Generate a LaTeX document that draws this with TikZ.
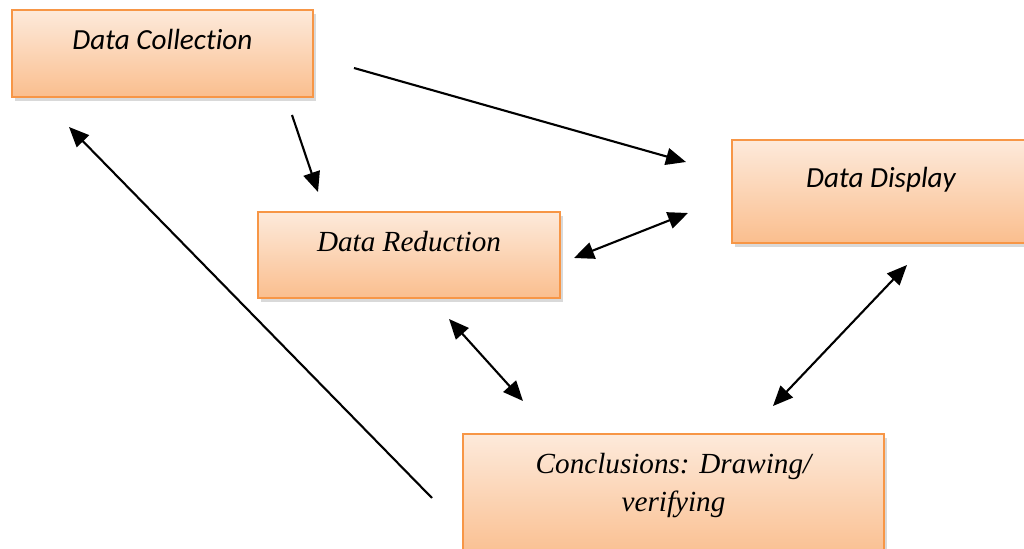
\documentclass[tikz,border=0pt]{standalone}
\usepackage{fontspec}
\setmainfont{Liberation Serif}
\newfontfamily\calibri[Ligatures=CommonOff]{Carlito}
\usetikzlibrary{shadows, arrows.meta}

\definecolor{boxedge}{RGB}{247,150,70}
\definecolor{boxtop}{RGB}{253,234,219}
\definecolor{boxbottom}{RGB}{250,190,142}

\begin{document}
\begin{tikzpicture}[
		box/.style = {draw = boxedge, line width = 0.8pt, top color = boxtop, bottom color = boxbottom,
			drop shadow = {shadow xshift = 0.03, shadow yshift = -0.04, opacity = 0.3}},
		txt/.style = {anchor = base, font = \fontsize{8.3}{10.8}\selectfont\itshape, align = center},
		arr/.style = {line width = 0.6pt, -{Triangle[length = 2mm, width = 1.7mm]}},
		dbl/.style = {line width = 0.6pt, {Triangle[length = 2mm, width = 1.7mm]}-{Triangle[length = 2mm, width = 1.7mm]}}
	]
			\useasboundingbox (0,0) rectangle (10.24,5.48);

			\node [box, minimum width = 3.01cm, minimum height = 0.87cm,
				label = {[txt, yshift = -0.41cm, font = \fontsize{8.3}{10.8}\selectfont\calibri\itshape]north:Data Collection}]
				(collect) at (1.625,4.945) {};
			\node [box, minimum width = 2.98cm, minimum height = 1.03cm,
				label = {[txt, yshift = -0.49cm, font = \fontsize{8.3}{10.8}\selectfont\calibri\itshape]north:Data Display}]
				(display) at (8.81,3.565) {};
			\node [box, minimum width = 3.02cm, minimum height = 0.86cm,
				label = {[txt, yshift = -0.41cm]north:Data Reduction}]
				(reduce) at (4.09,2.93) {};
			\node [box, minimum width = 4.21cm, minimum height = 1.26cm,
				label = {[txt, yshift = -0.79cm]north:Conclusions: Drawing/\\verifying}]
				(conclude) at (6.735,0.51) {};

			% arrow ends
			\coordinate (c1) at (3.54,4.80);
			\coordinate (d1) at (6.86,3.86);
			\coordinate (c2) at (2.92,4.33);
			\coordinate (r1) at (3.18,3.56);
			\coordinate (r2) at (5.74,2.90);
			\coordinate (d2) at (6.88,3.35);
			\coordinate (r3) at (4.49,2.29);
			\coordinate (k1) at (5.23,1.47);
			\coordinate (k2) at (7.73,1.42);
			\coordinate (d3) at (9.07,2.83);
			\coordinate (k3) at (4.32,0.50);
			\coordinate (c3) at (0.69,4.21);

			\draw [arr] (c1) to (d1);
			\draw [arr] (c2) to (r1);
			\draw [dbl] (r2) to (d2);
			\draw [dbl] (r3) to (k1);
			\draw [dbl] (k2) to (d3);
			\draw [arr] (k3) to (c3);
		\end{tikzpicture}
\end{document}
